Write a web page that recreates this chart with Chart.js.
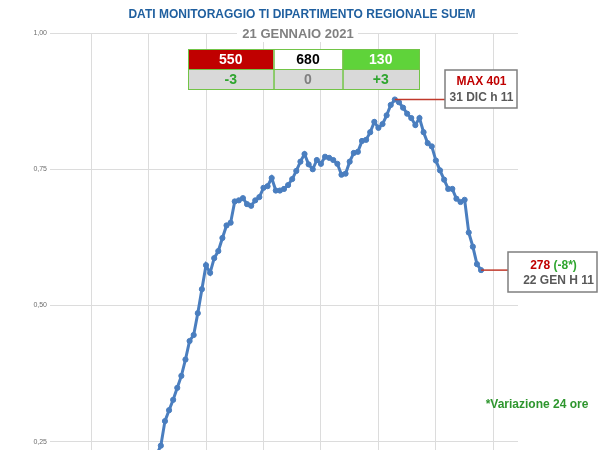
<!DOCTYPE html>
<html><head><meta charset="utf-8">
<script src="https://cdn.jsdelivr.net/npm/chart.js@4/dist/chart.umd.min.js"></script>
<style>html,body{margin:0;padding:0;background:#fff;overflow:hidden}#wrap{width:611px;height:450px;position:relative}</style>
</head><body><div id="wrap"><canvas id="c" width="611" height="450"></canvas></div>
<script>
// ---- data (normalised monitoring values, one per day) ----
const firstDay = -1;
const values = [0.227, 0.243, 0.288, 0.308, 0.327, 0.349, 0.371, 0.401, 0.435, 0.446, 0.486,
  0.530, 0.574, 0.560, 0.587, 0.600, 0.624, 0.647, 0.652, 0.691, 0.693,
  0.697, 0.686, 0.683, 0.693, 0.699, 0.716, 0.719, 0.734, 0.711, 0.711,
  0.714, 0.721, 0.732, 0.747, 0.764, 0.778, 0.759, 0.750, 0.767, 0.760,
  0.773, 0.771, 0.767, 0.760, 0.740, 0.742, 0.764, 0.780, 0.782, 0.802,
  0.804, 0.818, 0.837, 0.826, 0.833, 0.849, 0.868, 0.878, 0.873, 0.863,
  0.852, 0.844, 0.831, 0.844, 0.818, 0.798, 0.792, 0.766, 0.748, 0.731,
  0.714, 0.714, 0.696, 0.690, 0.694, 0.634, 0.608, 0.576, 0.565];
const yTicks = [0.25, 0.50, 0.75, 1.00];
const xGridDays = [-17, -3, 11, 25, 39, 53, 67, 81];
const title = 'DATI MONITORAGGIO TI DIPARTIMENTO REGIONALE SUEM';
const subtitle = '21 GENNAIO 2021';
const tableTop = ['550', '680', '130'];
const tableBottom = ['-3', '0', '+3'];
const maxLabel = 'MAX 401';
const maxDate = '31 DIC h 11';
const lastValue = '278';
const lastDelta = '(-8*)';
const lastDate = '22 GEN H 11';
const note = '*Variazione 24 ore';

const points = values.map((v, i) => ({ x: firstDay + i, y: v }));
const FONT = '"Liberation Sans", Arial, sans-serif';

const overlay = {
  id: 'overlay',
  afterDraw(chart) {
    const ctx = chart.ctx, xs = chart.scales.x, ys = chart.scales.y;
    ctx.save();
    ctx.textAlign = 'center';
    ctx.textBaseline = 'middle';
    // title
    ctx.font = 'bold 12px ' + FONT;
    ctx.fillStyle = '#1f5f9f';
    ctx.fillText(title, 302, 14.5);
    // subtitle with white backing over the top gridline
    ctx.fillStyle = '#ffffff';
    ctx.fillRect(237, 26, 121, 16);
    ctx.font = 'bold 13px ' + FONT;
    ctx.fillStyle = '#808080';
    ctx.fillText(subtitle, 298, 34.5);
    // table
    const cols = [188, 273.5, 342.5, 419];
    const rows = [49, 69, 89];
    const topFill = ['#c00000', '#ffffff', '#5fd33a'];
    const topInk = ['#ffffff', '#000000', '#ffffff'];
    const botInk = ['#2fa52f', '#7f7f7f', '#2fa52f'];
    for (let i = 0; i < 3; i++) {
      ctx.fillStyle = topFill[i];
      ctx.fillRect(cols[i], rows[0], cols[i + 1] - cols[i], rows[1] - rows[0]);
      ctx.fillStyle = '#d9d9d9';
      ctx.fillRect(cols[i], rows[1], cols[i + 1] - cols[i], rows[2] - rows[1]);
    }
    ctx.strokeStyle = '#72c447';
    ctx.lineWidth = 1;
    for (let i = 0; i < 3; i++) {
      for (let r = 0; r < 2; r++) {
        ctx.strokeRect(cols[i] + 0.5, rows[r] + 0.5, cols[i + 1] - cols[i], rows[r + 1] - rows[r]);
      }
    }
    ctx.font = 'bold 14px ' + FONT;
    for (let i = 0; i < 3; i++) {
      const cx = (cols[i] + cols[i + 1]) / 2;
      ctx.fillStyle = topInk[i];
      ctx.fillText(tableTop[i], cx, (rows[0] + rows[1]) / 2 + 1);
      ctx.fillStyle = botInk[i];
      ctx.fillText(tableBottom[i], cx, (rows[1] + rows[2]) / 2 + 1);
    }
    // max annotation
    let iMax = 0;
    values.forEach((v, i) => { if (v > values[iMax]) iMax = i; });
    const mx = xs.getPixelForValue(points[iMax].x), my = ys.getPixelForValue(points[iMax].y);
    ctx.strokeStyle = '#c0392b';
    ctx.lineWidth = 1.5;
    ctx.beginPath(); ctx.moveTo(mx, my); ctx.lineTo(445, my); ctx.stroke();
    ctx.fillStyle = '#ffffff';
    ctx.fillRect(445, 70, 72, 38);
    ctx.strokeStyle = '#7f7f7f';
    ctx.lineWidth = 1.5;
    ctx.strokeRect(445, 70, 72, 38);
    ctx.font = 'bold 12px ' + FONT;
    ctx.fillStyle = '#c00000';
    ctx.fillText(maxLabel, 481.5, 82);
    ctx.fillStyle = '#595959';
    ctx.fillText(maxDate, 481.5, 98);
    // last value annotation
    const last = points[points.length - 1];
    const lx = xs.getPixelForValue(last.x), ly = ys.getPixelForValue(last.y);
    ctx.strokeStyle = '#c0392b';
    ctx.lineWidth = 1.5;
    ctx.beginPath(); ctx.moveTo(lx, ly); ctx.lineTo(508, ly); ctx.stroke();
    ctx.fillStyle = '#ffffff';
    ctx.fillRect(508, 252, 89, 40);
    ctx.strokeStyle = '#7f7f7f';
    ctx.strokeRect(508, 252, 89, 40);
    ctx.font = 'bold 12px ' + FONT;
    const w1 = ctx.measureText(lastValue + ' ').width, w2 = ctx.measureText(lastDelta).width;
    const sx = 553.5 - (w1 + w2) / 2;
    ctx.textAlign = 'left';
    ctx.fillStyle = '#c00000';
    ctx.fillText(lastValue, sx, 265.5);
    ctx.fillStyle = '#2fa52f';
    ctx.fillText(lastDelta, sx + w1, 265.5);
    ctx.textAlign = 'center';
    ctx.fillStyle = '#595959';
    ctx.fillText(lastDate, 558.5, 281);
    // note
    ctx.fillStyle = '#2e962e';
    ctx.fillText(note, 537, 405);
    ctx.restore();
  }
};

new Chart(document.getElementById('c'), {
  type: 'line',
  data: {
    datasets: [{
      data: points,
      borderColor: '#4a7ebf',
      backgroundColor: '#4a7ebf',
      borderWidth: 3,
      pointRadius: 2.6,
      pointBorderWidth: 1,
      pointBackgroundColor: '#4a7ebf',
      pointBorderColor: '#4a7ebf',
      tension: 0
    }]
  },
  options: {
    responsive: false,
    animation: false,
    devicePixelRatio: 1,
    layout: { autoPadding: false, padding: { left: 0, right: 93, top: 33, bottom: 0 } },
    plugins: { legend: { display: false }, tooltip: { enabled: false }, title: { display: false } },
    scales: {
      x: {
        type: 'linear', min: -27, max: 87,
        afterBuildTicks: s => { s.ticks = xGridDays.map(v => ({ value: v })); },
        afterFit: s => { s.height = 0; s.paddingLeft = 0; s.paddingRight = 0; },
        ticks: { display: false },
        grid: { color: '#dcdcdc', lineWidth: 1, drawTicks: false },
        border: { display: false }
      },
      y: {
        type: 'linear', min: 0.235, max: 1.0,
        afterBuildTicks: s => { s.ticks = yTicks.map(v => ({ value: v })); },
        afterFit: s => { s.width = 50; s.paddingTop = 0; s.paddingBottom = 0; },
        ticks: {
          padding: 3,
          color: '#6e6e6e',
          font: { family: FONT, size: 7 },
          callback: v => v.toFixed(2).replace('.', ',')
        },
        grid: { color: '#dcdcdc', lineWidth: 1, drawTicks: false },
        border: { display: false }
      }
    }
  },
  plugins: [overlay]
});
</script>
</body></html>
